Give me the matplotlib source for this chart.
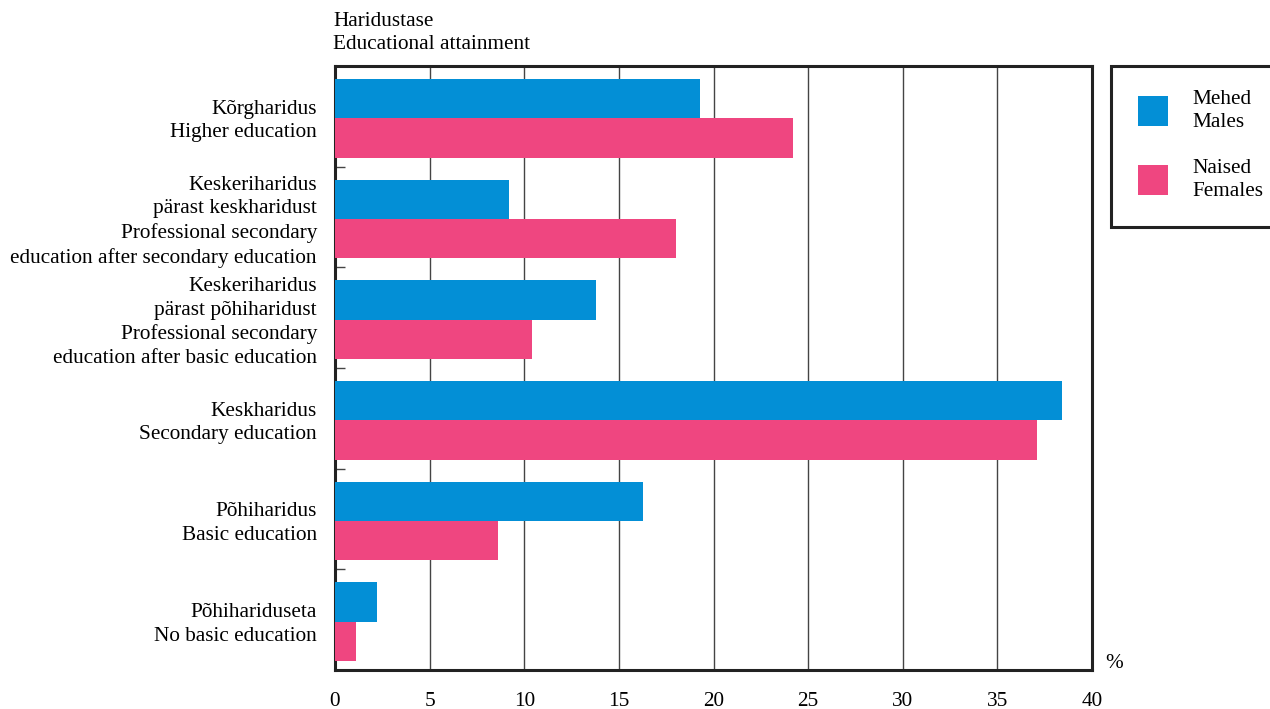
import matplotlib
matplotlib.use('Agg')
import matplotlib.pyplot as plt
from matplotlib.patches import Rectangle
import numpy as np

plt.rcParams['font.family'] = ['Liberation Serif', 'DejaVu Serif']

categories = [
    'Kõrgharidus\nHigher education',
    'Keskeriharidus\npärast keskharidust\nProfessional secondary\neducation after secondary education',
    'Keskeriharidus\npärast põhiharidust\nProfessional secondary\neducation after basic education',
    'Keskharidus\nSecondary education',
    'Põhiharidus\nBasic education',
    'Põhihariduseta\nNo basic education',
]
males = [19.3, 9.2, 13.8, 38.4, 16.3, 2.2]
females = [24.2, 18.0, 10.4, 37.1, 8.6, 1.1]
series_names = ['Mehed\nMales', 'Naised\nFemales']
x_ticks = [0, 5, 10, 15, 20, 25, 30, 35, 40]

blue = '#038fd6'
pink = '#ef4680'
fs = 15.3

W, H = 1270, 709
fig = plt.figure(figsize=(12.7, 7.09), dpi=100)
ax = fig.add_axes([335 / W, 1 - 670 / H, 757 / W, 604 / H])

y = np.arange(len(categories))
h = 0.39
ax.barh(y - h / 2 + 0.02, males, height=h, color=blue, zorder=3)
ax.barh(y + h / 2 + 0.02, females, height=h, color=pink, zorder=3)

ax.set_xlim(0, 40)
ax.set_ylim(len(categories) - 0.5, -0.5)

for xv in x_ticks[1:-1]:
    ax.axvline(xv, color='#444444', lw=1.0, zorder=1)

ax.set_yticks(y)
ax.set_yticklabels(categories, fontsize=fs, linespacing=1.33)
ax.tick_params(axis='y', length=0, pad=13)
ax.set_yticks(np.arange(0.5, len(categories) - 0.5, 1), minor=True)
ax.tick_params(axis='y', which='minor', direction='in', length=7, width=1, color='#444444')

ax.set_xticks(x_ticks)
ax.set_xticklabels([str(v) for v in x_ticks], fontsize=fs)
ax.tick_params(axis='x', length=0, pad=16)

for s in ax.spines.values():
    s.set_linewidth(2.2)
    s.set_color('#222222')

fig.text(333 / W, 1 - 33 / H, 'Haridustase\nEducational attainment', fontsize=fs,
         ha='left', va='center', linespacing=1.33)
fig.text(1105 / W, 1 - 663 / H, '%', fontsize=fs, ha='left', va='center')

# legend box drawn by hand
fig.add_artist(Rectangle((1111 / W, 1 - 227 / H), 170 / W, 161 / H, transform=fig.transFigure,
                         facecolor='white', edgecolor='#222222', lw=2.2, clip_on=False))
for i, (name, col) in enumerate(zip(series_names, [blue, pink])):
    cy = 111 + i * 69
    fig.add_artist(Rectangle((1138 / W, 1 - (cy + 15) / H), 30 / W, 30 / H,
                             transform=fig.transFigure, facecolor=col, edgecolor='none'))
    fig.text(1192 / W, 1 - cy / H, name, fontsize=fs, ha='left', va='center', linespacing=1.33)

fig.savefig('out.png', dpi=100)
